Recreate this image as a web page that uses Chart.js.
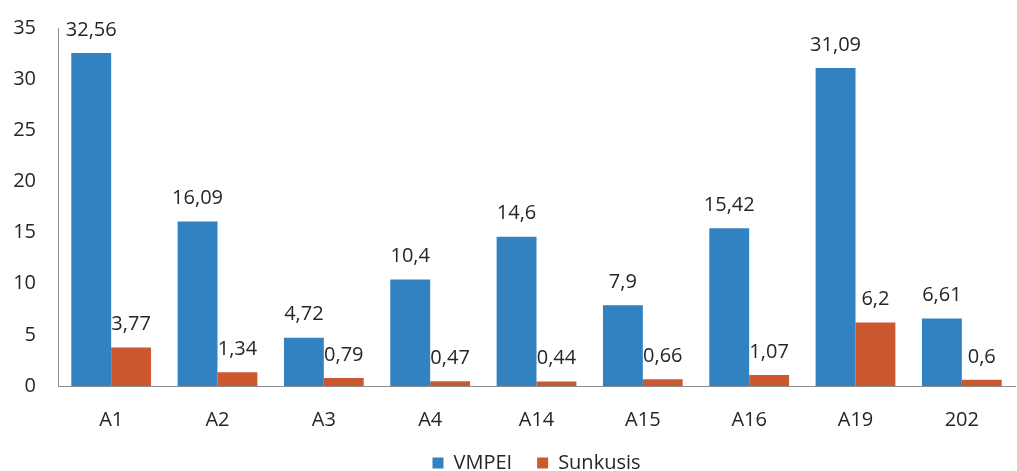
<!DOCTYPE html>
<html>
<head>
<meta charset="utf-8">
<script src="https://cdn.jsdelivr.net/npm/chart.js@4.4.1/dist/chart.umd.min.js"></script>
<style>
  html, body { margin: 0; padding: 0; background: #fff; }
  #wrap { width: 1017px; height: 471px; position: relative; }
</style>
</head>
<body>
<div id="wrap"><canvas id="c"></canvas></div>
<script>
const categories = ['A1', 'A2', 'A3', 'A4', 'A14', 'A15', 'A16', 'A19', '202'];
const vmpei = [32.56, 16.09, 4.72, 10.4, 14.6, 7.9, 15.42, 31.09, 6.61];
const sunkusis = [3.77, 1.34, 0.79, 0.47, 0.44, 0.66, 1.07, 6.2, 0.6];
const yTicks = [0, 5, 10, 15, 20, 25, 30, 35];

const FONT = '"Open Sans", sans-serif';
const TEXT = '#262626';

// Writes each bar's value above it, with a decimal comma
const valueLabels = {
  id: 'valueLabels',
  afterDatasetsDraw(chart) {
    const ctx = chart.ctx;
    ctx.save();
    ctx.font = '20px ' + FONT;
    ctx.fillStyle = TEXT;
    ctx.textAlign = 'center';
    ctx.textBaseline = 'middle';
    chart.data.datasets.forEach((ds, i) => {
      const meta = chart.getDatasetMeta(i);
      meta.data.forEach((bar, j) => {
        const txt = String(ds.data[j]).replace('.', ',');
        ctx.fillText(txt, bar.x, bar.y - 23);
      });
    });
    ctx.restore();
  }
};

new Chart(document.getElementById('c'), {
  type: 'bar',
  data: {
    labels: categories,
    datasets: [
      { label: 'VMPEI', data: vmpei, backgroundColor: '#3281C0' },
      { label: 'Sunkusis', data: sunkusis, backgroundColor: '#CC5830' }
    ]
  },
  options: {
    responsive: true,
    maintainAspectRatio: false,
    animation: false,
    layout: { padding: { top: 28, right: 2, left: 0, bottom: -12 } },
    datasets: { bar: { categoryPercentage: 0.75, barPercentage: 1.0 } },
    scales: {
      x: {
        afterFit(scale) { scale.height = 42; },
        grid: { display: false },
        border: { display: true, color: '#8c8c8c', width: 1 },
        ticks: { color: TEXT, font: { family: FONT, size: 20 }, padding: 14 }
      },
      y: {
        min: 0, max: 35,
        afterFit(scale) { scale.width = 58; },
        afterBuildTicks(scale) { scale.ticks = yTicks.map(v => ({ value: v })); },
        grid: { display: false },
        border: { display: true, color: '#8c8c8c', width: 1 },
        ticks: { color: TEXT, font: { family: FONT, size: 20 }, padding: 14 }
      }
    },
    plugins: {
      legend: {
        position: 'bottom',
        fullSize: false,
        labels: {
          color: TEXT,
          font: { family: FONT, size: 20 },
          boxWidth: 11, boxHeight: 11,
          padding: 25
        }
      },
      tooltip: { enabled: false }
    }
  },
  plugins: [valueLabels]
});
</script>
</body>
</html>
